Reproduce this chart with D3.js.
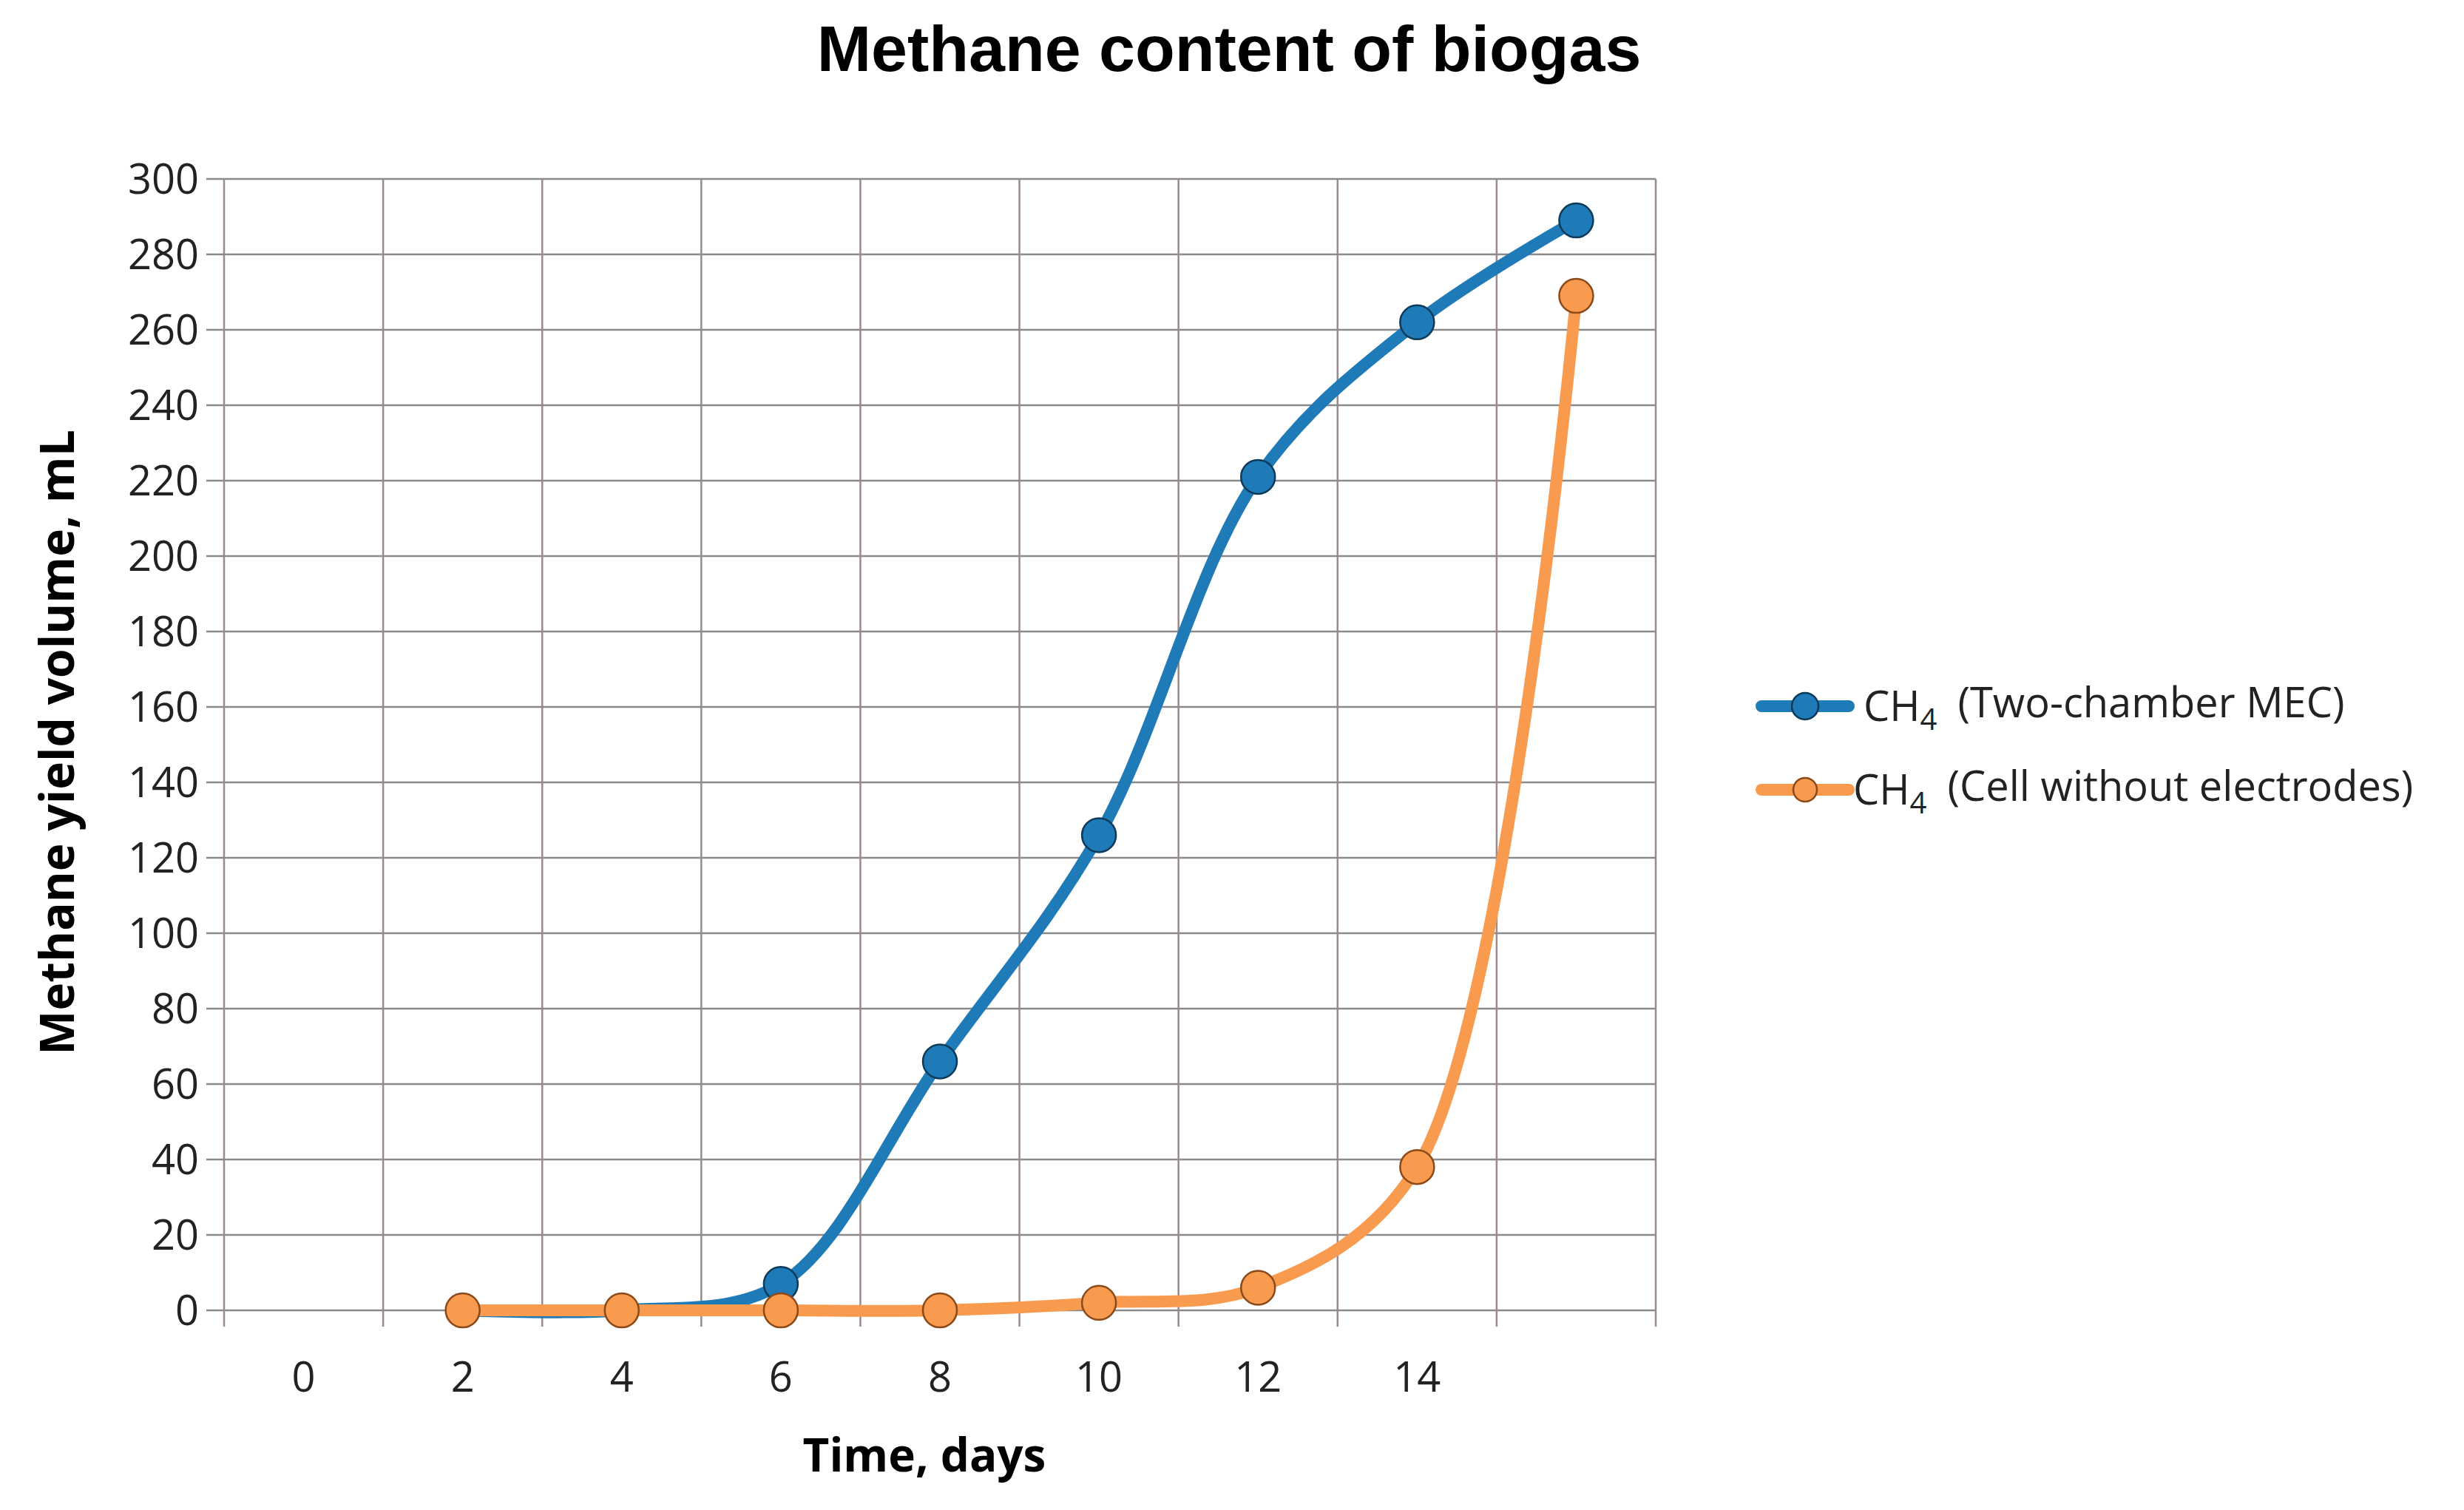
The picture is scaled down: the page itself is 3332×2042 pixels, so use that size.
<!DOCTYPE html>
<html><head><meta charset="utf-8">
<script src="https://cdn.jsdelivr.net/npm/d3@7"></script>
<style>body{margin:0;background:#fff}</style>
</head><body>
<script>
const days = [0, 2, 4, 6, 8, 10, 12, 14, 16];
const dayLabels = ["0", "2", "4", "6", "8", "10", "12", "14", ""];
const yTicks = [0, 20, 40, 60, 80, 100, 120, 140, 160, 180, 200, 220, 240, 260, 280, 300];
// null = no value that day
const mecValues = [null, 0, 0, 7, 66, 126, 221, 262, 289];
const mecMarkers = [false, false, false, true, true, true, true, true, true];
const cellValues = [null, 0, 0, 0, 0, 2, 6, 38, 269];
const seriesNames = ["(Two-chamber MEC)", "(Cell without electrodes)"];

const W = 3332, H = 2042;
const m = {left: 303, right: 2239, top: 242, bottom: 1772};
const svg = d3.select("body").append("svg").attr("width", W).attr("height", H);
const font = "'Open Sans', sans-serif";

const x = d3.scaleBand().domain(days).range([m.left, m.right]);
const y = d3.scaleLinear().domain([0, 300]).range([m.bottom, m.top]);

// grid
const grid = svg.append("g").attr("stroke", "#8a8a8a").attr("stroke-width", 2.5);
grid.selectAll(".h").data(yTicks).join("line")
    .attr("x1", m.left - 24).attr("x2", m.right)
    .attr("y1", d => y(d)).attr("y2", d => y(d));
const vx = days.map(d => x(d)).concat([m.right]);
grid.selectAll(".v").data(vx).join("line")
    .attr("x1", d => d).attr("x2", d => d)
    .attr("y1", m.top).attr("y2", m.bottom + 22)
    .attr("stroke", "#9a8a8a");

// tick labels
svg.append("g").selectAll("text").data(yTicks).join("text")
    .attr("x", m.left - 34).attr("y", d => y(d)).attr("dy", "0.36em")
    .attr("text-anchor", "end").attr("font-family", font).attr("font-size", 56)
    .attr("fill", "#222").text(d => d);
svg.append("g").selectAll("text").data(days).join("text")
    .attr("x", d => x(d) + x.bandwidth() / 2).attr("y", 1882)
    .attr("text-anchor", "middle").attr("font-family", font).attr("font-size", 56)
    .attr("fill", "#222").text((d, i) => dayLabels[i]);

// titles
svg.append("text").attr("x", 1662).attr("y", 96).attr("text-anchor", "middle")
    .attr("font-family", "'Liberation Sans', Arial, sans-serif").attr("font-weight", "bold")
    .attr("font-size", 88).text("Methane content of biogas");
svg.append("text").attr("x", 1250).attr("y", 1990).attr("text-anchor", "middle")
    .attr("font-family", font).attr("font-weight", "bold").attr("font-size", 62)
    .text("Time, days");
svg.append("text").attr("transform", "translate(100,1004) rotate(-90)")
    .attr("text-anchor", "middle").attr("font-family", font).attr("font-weight", "bold")
    .attr("font-size", 64).text("Methane yield volume, mL");

// series
const series = [
    {vals: cellValues, marks: cellValues.map(v => v !== null), color: "#f99b4f", stroke: "#8a4a1a"},
    {vals: mecValues, marks: mecMarkers, color: "#1f7ab8", stroke: "#0e3a5a"}
];
const line = d3.line().defined(d => d.v !== null)
    .x(d => x(d.d) + x.bandwidth() / 2).y(d => y(d.v))
    .curve(d3.curveCatmullRom.alpha(0.5));
// draw MEC line first so orange markers sit on top like the source
[series[1], series[0]].forEach(s => {
    const pts = days.map((d, i) => ({d, v: s.vals[i], m: s.marks[i]}));
    svg.append("path").datum(pts).attr("d", line).attr("fill", "none")
        .attr("stroke", s.color).attr("stroke-width", 16).attr("stroke-linecap", "round");
    svg.append("g").selectAll("circle").data(pts.filter(p => p.v !== null && p.m)).join("circle")
        .attr("cx", p => x(p.d) + x.bandwidth() / 2).attr("cy", p => y(p.v)).attr("r", 23)
        .attr("fill", s.color).attr("stroke", s.stroke).attr("stroke-width", 2.5);
});

// legend
const leg = [{c: "#1f7ab8", s: "#0e3a5a", y: 955, r: 18}, {c: "#f99b4f", s: "#8a4a1a", y: 1068, r: 16}];
leg.forEach((l, i) => {
    svg.append("line").attr("x1", 2382).attr("x2", 2500).attr("y1", l.y).attr("y2", l.y)
        .attr("stroke", l.c).attr("stroke-width", 16).attr("stroke-linecap", "round");
    svg.append("circle").attr("cx", 2441).attr("cy", l.y).attr("r", l.r)
        .attr("fill", l.c).attr("stroke", l.s).attr("stroke-width", 2.5);
    const t = svg.append("text").attr("x", i === 0 ? 2520 : 2506).attr("y", l.y).attr("dy", "0.36em")
        .attr("font-family", font).attr("font-size", 56).attr("fill", "#222");
    t.append("tspan").text("CH");
    t.append("tspan").attr("font-size", 40).attr("dy", "0.3em").text("4");
    t.append("tspan").attr("dy", "-0.3em").text("\u2002" + seriesNames[i]);
});
</script>
</body></html>
